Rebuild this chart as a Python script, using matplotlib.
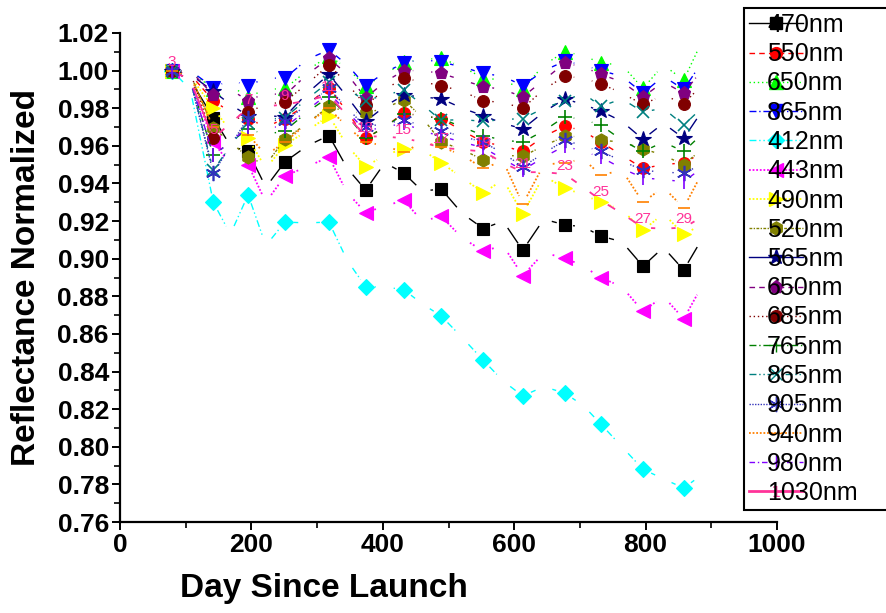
import matplotlib
matplotlib.use("Agg")
import matplotlib.pyplot as plt
import numpy as np
from matplotlib.lines import Line2D
from matplotlib.ticker import MultipleLocator, FormatStrFormatter

plt.rcParams['font.family'] = ['Liberation Sans', 'DejaVu Sans']

# ---- data ----
# days with a symbol, and the days in between (line only, no symbol)
days_marked = [79, 142, 195, 251, 318, 374, 432, 489, 553, 613, 677, 732, 796, 858]
days_between = [107, 168, 222, 285, 346, 403, 460, 521, 583, 645, 705, 764, 827, 885]

r470 = [1.000, 0.975, 0.957, 0.9515, 0.9655, 0.9365, 0.9455, 0.937, 0.916, 0.9045, 0.918, 0.912, 0.896, 0.894]
r470_mid = [0.995, 0.960, 0.938, 0.960, 0.948, 0.951, 0.936, 0.924, 0.920, 0.921, 0.917, 0.909, 0.906, 0.910]
r550 = [1.000, 0.984, 0.9745, 0.9745, 0.991, 0.964, 0.9775, 0.9745, 0.962, 0.957, 0.9705, 0.962, 0.948, 0.951]
r550_mid = [0.998, 0.978, 0.970, 0.982, 0.978, 0.970, 0.976, 0.968, 0.960, 0.965, 0.968, 0.955, 0.950, 0.956]
r650 = [1.000, 0.990, 0.986, 0.9905, 1.008, 0.992, 1.0045, 1.0065, 0.996, 0.990, 1.010, 1.004, 0.9905, 0.995]
r650_mid = [1.000, 0.992, 0.990, 1.000, 1.001, 0.998, 1.006, 1.002, 0.995, 1.003, 1.008, 1.003, 1.003, 1.015]
r865 = [1.000, 0.991, 0.992, 0.996, 1.011, 0.992, 1.004, 1.0045, 0.9985, 0.992, 1.005, 1.000, 0.988, 0.990]
r865_mid = [1.000, 0.995, 0.996, 1.006, 1.003, 0.999, 1.006, 1.002, 0.997, 1.000, 1.003, 0.997, 0.997, 1.004]
r412 = [1.000, 0.930, 0.934, 0.9195, 0.9195, 0.885, 0.8835, 0.8695, 0.846, 0.827, 0.8285, 0.812, 0.788, 0.778]
r412_mid = [0.990, 0.913, 0.907, 0.919, 0.899, 0.885, 0.876, 0.858, 0.835, 0.832, 0.822, 0.800, 0.783, 0.785]
r443 = [1.000, 0.962, 0.950, 0.944, 0.954, 0.9245, 0.931, 0.9225, 0.904, 0.891, 0.9005, 0.890, 0.872, 0.868]
r443_mid = [0.995, 0.950, 0.930, 0.949, 0.935, 0.928, 0.920, 0.911, 0.907, 0.903, 0.896, 0.885, 0.880, 0.885]
r490 = [1.000, 0.980, 0.964, 0.9605, 0.976, 0.949, 0.9585, 0.951, 0.935, 0.924, 0.9375, 0.930, 0.915, 0.913]
r490_mid = [0.997, 0.968, 0.948, 0.968, 0.960, 0.955, 0.958, 0.943, 0.942, 0.944, 0.934, 0.926, 0.924, 0.918]
r520 = [1.000, 0.9695, 0.954, 0.9635, 0.981, 0.9775, 0.9845, 0.962, 0.9525, 0.9545, 0.965, 0.963, 0.9585, 0.950]
r520_mid = [0.998, 0.962, 0.950, 0.972, 0.978, 0.980, 0.975, 0.958, 0.955, 0.960, 0.965, 0.962, 0.955, 0.958]
r565 = [1.000, 0.989, 0.976, 0.9755, 0.998, 0.973, 0.987, 0.985, 0.976, 0.969, 0.985, 0.9785, 0.9635, 0.964]
r565_mid = [0.998, 0.982, 0.976, 0.988, 0.986, 0.981, 0.986, 0.980, 0.972, 0.978, 0.982, 0.973, 0.972, 0.978]
r650b = [1.000, 0.987, 0.984, 0.987, 1.0065, 0.9855, 1.000, 0.9985, 0.9915, 0.986, 1.004, 0.998, 0.986, 0.988]
r650b_mid = [1.000, 0.990, 0.988, 0.998, 0.998, 0.994, 1.000, 0.995, 0.990, 0.995, 1.002, 0.994, 0.994, 1.000]
r685 = [1.000, 0.964, 0.978, 0.9835, 1.003, 0.9815, 0.996, 0.992, 0.984, 0.980, 0.997, 0.993, 0.982, 0.9825]
r685_mid = [0.999, 0.972, 0.982, 0.993, 0.993, 0.990, 0.994, 0.989, 0.983, 0.990, 0.996, 0.988, 0.987, 0.992]
r765 = [1.000, 0.955, 0.969, 0.968, 0.986, 0.964, 0.977, 0.9745, 0.9655, 0.962, 0.9755, 0.971, 0.957, 0.957]
r765_mid = [0.995, 0.962, 0.966, 0.978, 0.976, 0.970, 0.976, 0.970, 0.963, 0.968, 0.974, 0.963, 0.962, 0.966]
r865b = [1.000, 0.947, 0.972, 0.975, 0.994, 0.984, 0.9895, 0.9735, 0.973, 0.9745, 0.984, 0.981, 0.978, 0.971]
r865b_mid = [0.995, 0.960, 0.974, 0.985, 0.990, 0.987, 0.982, 0.974, 0.974, 0.980, 0.988, 0.985, 0.980, 0.980]
r905 = [1.000, 0.9455, 0.975, 0.973, 0.9905, 0.970, 0.9735, 0.968, 0.962, 0.949, 0.963, 0.957, 0.947, 0.9455]
r905_mid = [0.995, 0.960, 0.974, 0.982, 0.980, 0.972, 0.971, 0.965, 0.956, 0.956, 0.960, 0.952, 0.946, 0.950]
r940 = [1.000, 0.970, 0.966, 0.962, 0.980, 0.962, 0.9565, 0.9595, 0.948, 0.929, 0.951, 0.9445, 0.930, 0.927]
r940_mid = [0.997, 0.968, 0.955, 0.972, 0.970, 0.960, 0.962, 0.955, 0.952, 0.950, 0.953, 0.947, 0.938, 0.945]
r980 = [1.000, 0.955, 0.970, 0.970, 0.988, 0.968, 0.972, 0.965, 0.959, 0.947, 0.960, 0.954, 0.943, 0.941]
r980_mid = [0.995, 0.962, 0.970, 0.979, 0.978, 0.970, 0.968, 0.962, 0.953, 0.954, 0.957, 0.948, 0.942, 0.948]
r1030 = [1.000, 0.964, 0.980, 0.982, 0.987, 0.965, 0.964, 0.959, 0.957, 0.946, 0.945, 0.931, 0.9165, 0.9165]
r1030_mid = [0.995, 0.972, 0.981, 0.984, 0.976, 0.965, 0.962, 0.958, 0.951, 0.946, 0.938, 0.924, 0.916, 0.922]
# 1030nm is drawn with row numbers instead of a symbol
row_numbers = ['3', '5', '7', '9', '11', '13', '15', '17', '19', '21', '23', '25', '27', '29']

labels = ['470nm', '550nm', '650nm', '865nm', '412nm', '443nm', '490nm', '520nm', '565nm',
          '650nm', '685nm', '765nm', '865nm', '905nm', '940nm', '980nm', '1030nm']
marked = [r470, r550, r650, r865, r412, r443, r490, r520, r565,
          r650b, r685, r765, r865b, r905, r940, r980, r1030]
between = [r470_mid, r550_mid, r650_mid, r865_mid, r412_mid, r443_mid, r490_mid, r520_mid, r565_mid,
           r650b_mid, r685_mid, r765_mid, r865b_mid, r905_mid, r940_mid, r980_mid, r1030_mid]

# styles: colour, linestyle, linewidth, marker, markersize
styles = [
    ('black', '-', 1.0, 's', 8.5),
    ('red', (0, (4, 3)), 1.0, 'o', 8.5),
    ('#00ff00', (0, (1, 2)), 1.0, '^', 9.5),
    ('blue', (0, (5, 2, 1, 2)), 1.0, 'v', 9.5),
    ('cyan', (0, (5, 2, 1, 2, 1, 2)), 1.0, 'D', 8.5),
    ('magenta', (0, (1, 1)), 1.3, '<', 9.5),
    ('yellow', (0, (1, 1)), 1.3, '>', 9.5),
    ('#808000', (0, (2, 1, 1, 1)), 1.0, 'h', 9.5),
    ('#000080', '-', 1.0, '*', 11.5),
    ('#800080', (0, (4, 3)), 1.0, 'p', 9.5),
    ('#800000', (0, (1, 2)), 1.0, 'o', 8.5),
    ('#008000', (0, (5, 2, 1, 2)), 1.0, '+', 10),
    ('#008080', (0, (5, 2, 1, 2, 1, 2)), 1.0, 'x', 9),
    ('#3333bb', (0, (1, 1)), 1.0, (6, 2, 0), 11),
    ('#ff8000', (0, (1, 1)), 1.3, '_', 9),
    ('#8000ff', (0, (4, 2, 1, 2)), 1.0, '|', 10),
    ('#ff3399', '-', 1.3, None, 0),
]

fig = plt.figure(figsize=(8.86, 6.13), dpi=100)
ax = fig.add_axes([120 / 886, 1 - 522 / 613, 657 / 886, 489 / 613])
ax.set_xlim(0, 1000)
ax.set_ylim(0.76, 1.02)

GAP = 9  # pixels left blank at each end of a segment (Origin "gap to symbol")


def gapped_line(xv, yv, gap):
    pts = ax.transData.transform(np.column_stack([xv, yv]))
    inv = ax.transData.inverted()
    xs, ys = [], []
    for p, q in zip(pts[:-1], pts[1:]):
        d = q - p
        L = np.hypot(d[0], d[1])
        if L <= 2 * gap:
            continue
        u = d / L
        seg = inv.transform(np.array([p + u * gap, q - u * gap]))
        xs += [seg[0, 0], seg[1, 0], np.nan]
        ys += [seg[0, 1], seg[1, 1], np.nan]
    return xs, ys


handles = []
for lab, ym, yb, (col, ls, lw, mk, ms) in zip(labels, marked, between, styles):
    xall, yall = [], []
    for a, b, c, d in zip(days_marked, ym, days_between, yb):
        xall += [a, c]
        yall += [b, d]
    xs, ys = gapped_line(xall, yall, GAP)
    ax.plot(xs, ys, color=col, linestyle=ls, linewidth=lw)
    if mk is not None:
        ax.plot(days_marked, ym, linestyle='none', marker=mk, markersize=ms,
                color=col, markeredgecolor=col,
                markeredgewidth=1.2 if mk in ['+', 'x', '_', '|', (6, 2, 0)] else 0.8)
        handles.append(Line2D([], [], color=col, linestyle=ls, linewidth=lw, marker=mk,
                              markersize=ms, markeredgecolor=col))
    else:
        for d, v, t in zip(days_marked, ym, row_numbers):
            ax.annotate(t, (d, v), xytext=(0, 6), textcoords='offset points',
                        ha='center', va='center', fontsize=11, color=col)
        handles.append(Line2D([], [], color=col, linestyle=ls, linewidth=2, marker=r'$\mathrm{1}$',
                              markersize=8, markeredgewidth=0))

# axes styling
for s in ['top', 'right']:
    ax.spines[s].set_visible(False)
for s in ['left', 'bottom']:
    ax.spines[s].set_linewidth(1.6)
ax.xaxis.set_major_locator(MultipleLocator(200))
ax.xaxis.set_minor_locator(MultipleLocator(100))
ax.yaxis.set_major_locator(MultipleLocator(0.02))
ax.yaxis.set_minor_locator(MultipleLocator(0.01))
ax.yaxis.set_major_formatter(FormatStrFormatter('%.2f'))
ax.tick_params(which='major', direction='out', length=6, width=1.4, labelsize=19, pad=2)
ax.tick_params(which='minor', direction='out', length=4, width=1.2)
for t in ax.get_xticklabels() + ax.get_yticklabels():
    t.set_fontweight('bold')

ax.set_xlabel('Day Since Launch', fontsize=24, fontweight='bold')
ax.xaxis.set_label_coords(0.31, -0.105)
ax.set_ylabel('Reflectance Normalized', fontsize=24, fontweight='bold')
ax.yaxis.set_label_coords(-0.118, 0.5)

leg = fig.legend(handles, labels, loc='upper left',
                 bbox_to_anchor=(744 / 886, 0.0, 0.3, 1 - 8 / 613), mode='expand',
                 fontsize=18, handlelength=2.16, handletextpad=-1.44, borderpad=0.2,
                 labelspacing=0.21, borderaxespad=0, fancybox=False, framealpha=1,
                 edgecolor='black')
leg.get_frame().set_linewidth(1.5)

fig.savefig('out.png', dpi=100)
